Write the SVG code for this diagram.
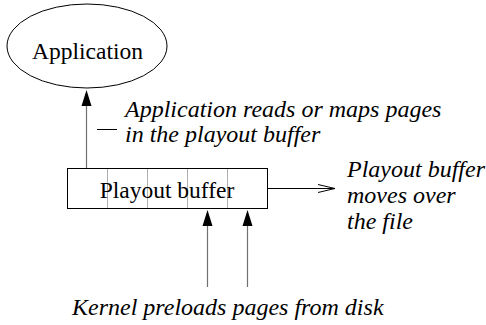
<svg xmlns="http://www.w3.org/2000/svg" width="486" height="325" viewBox="0 0 486 325">
  <defs>
    <style>
      .label { font-size: 23.5px; fill: #000; }
      .note { font-style: italic; font-size: 24px; fill: #000; }
      .shape { fill: #fff; stroke: #000; stroke-width: 1; }
      .page { stroke: #b0b0b0; stroke-width: 1; }
      .wire { stroke: #707070; stroke-width: 1.2; fill: none; }
      .head { fill: #000; stroke: none; }
    </style>
  </defs>
  <rect width="486" height="325" fill="#fff"/>

  <g font-family="Liberation Serif, DejaVu Serif, serif">
    <!-- application process -->
    <g id="application">
      <ellipse class="shape" cx="87" cy="46" rx="80" ry="42"/>
      <text class="label" x="87.5" y="59" text-anchor="middle">Application</text>
    </g>

    <!-- playout buffer with its page slots -->
    <g id="playout-buffer">
      <rect class="shape" x="67.5" y="168.5" width="200" height="40"/>
      <line class="page" x1="107.5" y1="169" x2="107.5" y2="208"/>
      <line class="page" x1="147.5" y1="169" x2="147.5" y2="208"/>
      <line class="page" x1="187.5" y1="169" x2="187.5" y2="208"/>
      <line class="page" x1="227.5" y1="169" x2="227.5" y2="208"/>
      <text class="label" x="167" y="198" text-anchor="middle">Playout buffer</text>
    </g>

    <!-- annotations -->
    <g id="read-note">
      <line x1="97" y1="129.5" x2="117" y2="129.5" stroke="#000" stroke-width="1"/>
      <text class="note" x="125" y="117">Application reads or maps pages</text>
      <text class="note" x="125" y="142">in the playout buffer</text>
    </g>
    <g id="move-note">
      <text class="note" x="347" y="177">Playout buffer</text>
      <text class="note" x="347" y="203">moves over</text>
      <text class="note" x="347" y="229">the file</text>
    </g>
    <g id="kernel-note">
      <text class="note" x="72" y="315">Kernel preloads pages from disk</text>
    </g>
  </g>

  <!-- connectors -->
  <g id="connectors">
    <line class="wire" x1="86.5" y1="168" x2="86.5" y2="104"/>
    <polygon class="head" points="86.5,90 81.5,106 91.5,106"/>

    <line class="wire" x1="207.5" y1="287" x2="207.5" y2="224"/>
    <polygon class="head" points="207.5,210 202.5,226 212.5,226"/>
    <line class="wire" x1="247.5" y1="287" x2="247.5" y2="224"/>
    <polygon class="head" points="247.5,210 242.5,226 252.5,226"/>

    <line x1="268" y1="188.5" x2="335" y2="188.5" stroke="#000" stroke-width="1"/>
    <polyline points="318,184.5 335,188.5 318,192.5" fill="none" stroke="#000" stroke-width="1"/>
  </g>
</svg>
